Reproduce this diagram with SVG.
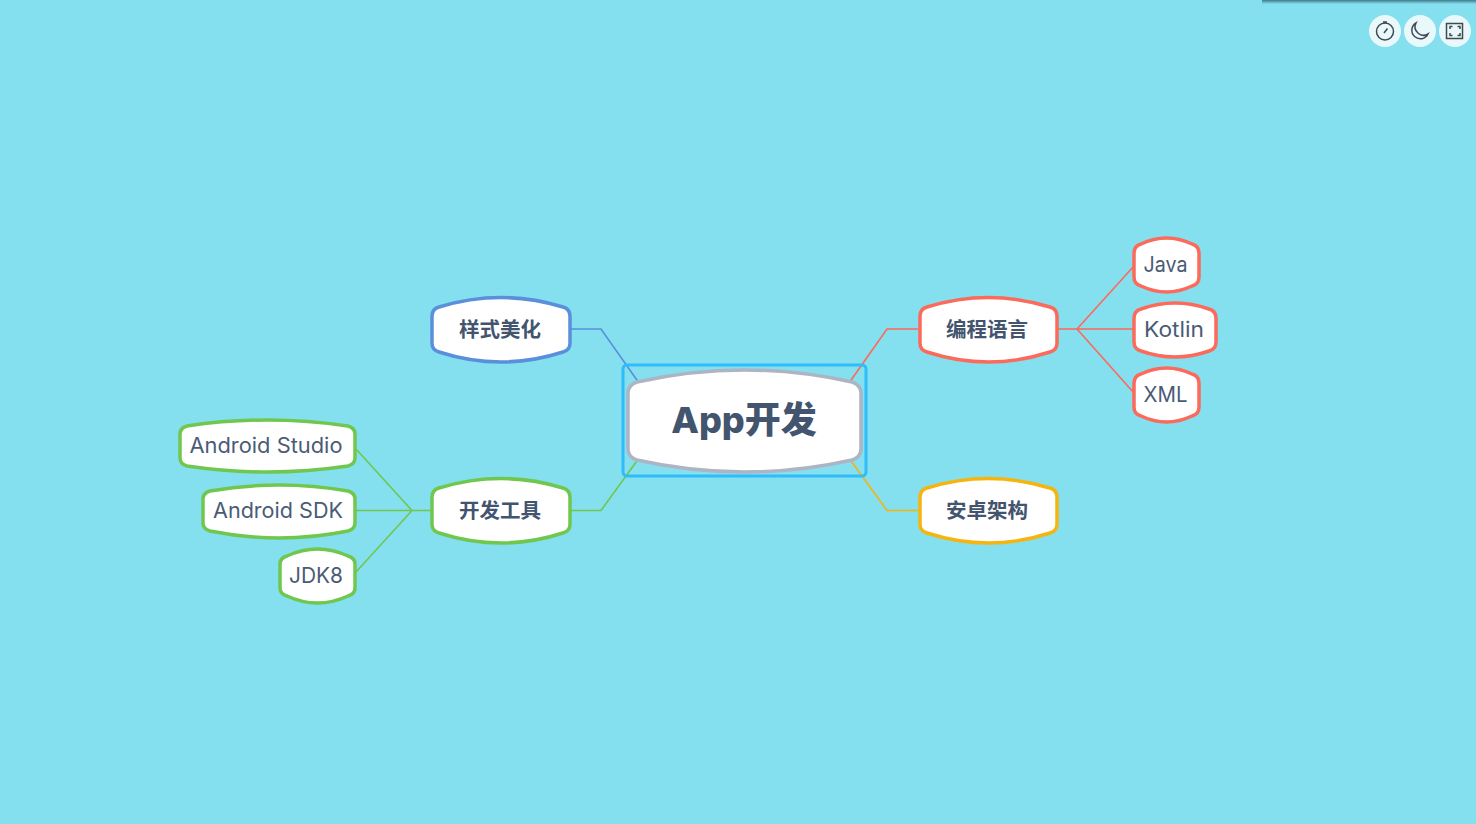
<svg xmlns="http://www.w3.org/2000/svg" width="1476" height="824" viewBox="0 0 1476 824">
<style>
.n{fill:#fff;stroke-width:3.500;stroke-linejoin:round}
.t{fill:#4a5b76;font-family:"Inter","Noto Sans","Noto Sans CJK SC",sans-serif;font-size:21px;text-anchor:middle}
.b{font-family:"Noto Sans CJK SC",sans-serif;font-size:20.500px;font-weight:700;text-anchor:middle;fill:#43546e}
.c{fill:none;stroke-width:1.600}
.red{stroke:#fb6a5a}.grn{stroke:#70c74e}.blu{stroke:#5a8fdc}.yel{stroke:#f6b40e}
.i{fill:none;stroke:#3f4a52;stroke-width:1.500}
</style>
<defs>
<linearGradient id="sh" x1="0" y1="0" x2="0" y2="1"><stop offset="0" stop-color="#3f7c8c"/><stop offset="1" stop-color="#84dfee"/></linearGradient>
</defs>
<rect width="1476" height="824" fill="#84dfee"/>
<rect x="1262" y="0" width="214" height="4" fill="url(#sh)"/>
<g id="connectors">
<path class="c blu" d="M570 329H601L639 383"/>
<path class="c grn" d="M570 510.500H601L639 458"/>
<path class="c red" d="M918 329H887L849 383"/>
<path class="c yel" d="M918 510.500H887L849 458"/>
<path class="c red" d="M1058 329H1077L1134 266M1077 329H1134M1077 329L1134 393"/>
<path class="c grn" d="M431 510.500H412L356 449M412 510.500H356M412 510.500L356 572"/>
</g>
<g id="root">
<rect x="623" y="365" width="243" height="111" rx="4" fill="none" stroke="#2fbcf8" stroke-width="3"/>
<path class="n" style="stroke:#adb5c4" d="M628 393Q628 385 637 382Q744.500 358 852 382Q861 385 861 393V449Q861 457 852 460Q744.500 484 637 460Q628 457 628 449Z"/>
<text x="744" y="433" font-family="Inter,&quot;Noto Sans CJK SC&quot;,sans-serif" font-size="36" font-weight="800" text-anchor="middle" fill="#43546e">App开发</text>
</g>
<g id="n-style">
<path class="n blu" d="M432 316Q432 309 439 307Q501 288 563 307Q570 309 570 316V343Q570 350 563 352Q501 372 439 352Q432 350 432 343Z"/>
<text class="b" x="500" y="337">样式美化</text>
</g>
<g id="n-tools">
<path class="n grn" d="M432 497Q432 490 439 488Q501 469 563 488Q570 490 570 497V524Q570 531 563 533Q501 553 439 533Q432 531 432 524Z"/>
<text class="b" x="500" y="518">开发工具</text>
</g>
<g id="n-lang">
<path class="n red" d="M920 316Q920 309 927 307Q988.500 288 1050 307Q1057 309 1057 316V343Q1057 350 1050 352Q988.500 372 927 352Q920 350 920 343Z"/>
<text class="b" x="987" y="337">编程语言</text>
</g>
<g id="n-arch">
<path class="n yel" d="M920 497Q920 490 927 488Q988.500 469 1050 488Q1057 490 1057 497V524Q1057 531 1050 533Q988.500 553 927 533Q920 531 920 524Z"/>
<text class="b" x="987" y="518">安卓架构</text>
</g>
<g id="n-java">
<path class="n red" d="M1134 253Q1134 246 1141 244Q1166.500 232 1192 244Q1199 246 1199 253V277Q1199 284 1192 286Q1166.500 298 1141 286Q1134 284 1134 277Z"/>
<text class="t" x="1165.500" y="272" textLength="44" lengthAdjust="spacingAndGlyphs">Java</text>
</g>
<g id="n-kotlin">
<path class="n red" d="M1134 318Q1134 311 1141 309Q1175 297 1209 309Q1216 311 1216 318V342Q1216 349 1209 351Q1175 363 1141 351Q1134 349 1134 342Z"/>
<text class="t" x="1174" y="337" textLength="60" lengthAdjust="spacingAndGlyphs">Kotlin</text>
</g>
<g id="n-xml">
<path class="n red" d="M1134 383Q1134 376 1141 374Q1166.500 362 1192 374Q1199 376 1199 383V407Q1199 414 1192 416Q1166.500 428 1141 416Q1134 414 1134 407Z"/>
<text class="t" x="1165.500" y="402" textLength="44" lengthAdjust="spacingAndGlyphs">XML</text>
</g>
<g id="n-studio">
<path class="n grn" d="M180 434Q180 428 187 426Q267.500 414 348 426Q355 428 355 434V458Q355 464 348 466Q267.500 478 187 466Q180 464 180 458Z"/>
<text class="t" x="266" y="453" textLength="153" lengthAdjust="spacingAndGlyphs">Android Studio</text>
</g>
<g id="n-sdk">
<path class="n grn" d="M203 499Q203 493 210 491Q279 479 348 491Q355 493 355 499V523Q355 529 348 531Q279 545 210 531Q203 529 203 523Z"/>
<text class="t" x="278" y="518" textLength="130" lengthAdjust="spacingAndGlyphs">Android SDK</text>
</g>
<g id="n-jdk">
<path class="n grn" d="M280 564Q280 558 287 556Q317.500 542 348 556Q355 558 355 564V588Q355 594 348 596Q317.500 610 287 596Q280 594 280 588Z"/>
<text class="t" x="316" y="583" textLength="54" lengthAdjust="spacingAndGlyphs">JDK8</text>
</g>
<g id="toolbar">
<circle cx="1385" cy="31" r="16" fill="#e9f9fb"/>
<circle cx="1420" cy="31" r="16" fill="#e9f9fb"/>
<circle cx="1455" cy="31" r="16" fill="#e9f9fb"/>
<circle class="i" cx="1385" cy="31.500" r="8.500"/>
<path class="i" d="M1383 22H1387M1385 22V23.500M1384 33L1387.500 28.500"/>
<path class="i" d="M1416 23A8.500 8.500 0 1 0 1428 34A8.500 8.500 0 0 1 1416 23Z"/>
<rect class="i" x="1446.500" y="23.500" width="16" height="15"/>
<path class="i" d="M1450 29V26.500H1452.500M1457.500 26.500H1460V29M1460 33V35.500H1457.500M1452.500 35.500H1450V33"/>
</g>
</svg>
